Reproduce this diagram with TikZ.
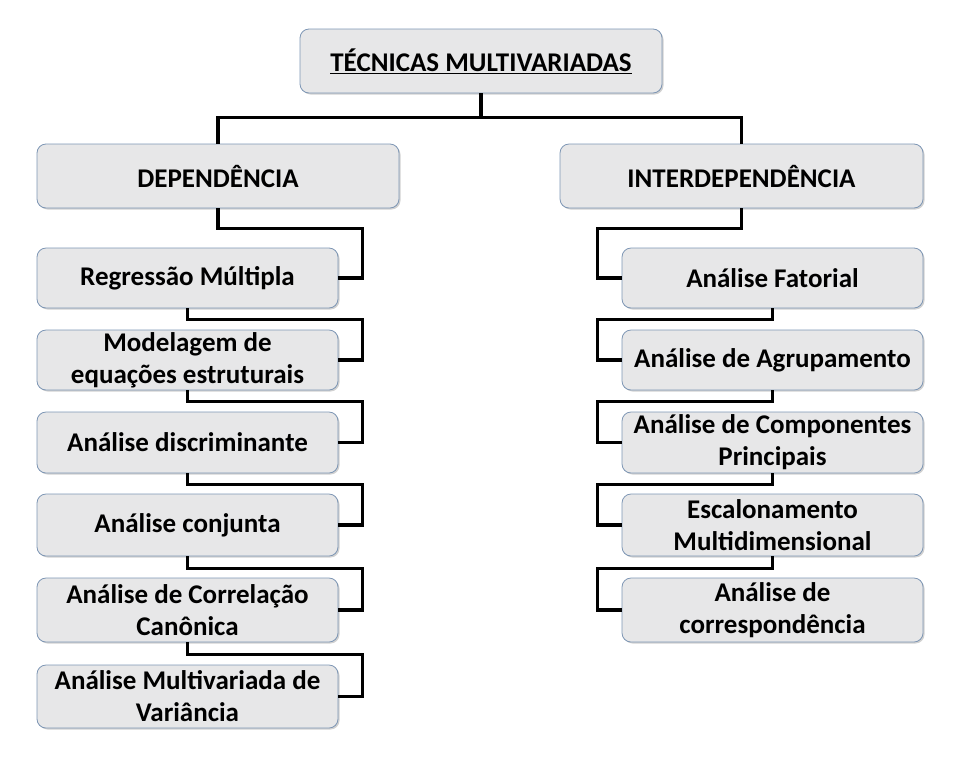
\documentclass[tikz,border=0pt]{standalone}
\usepackage{fontspec}
\setmainfont{Carlito}
\usetikzlibrary{shadows,calc}
\definecolor{boxfill}{RGB}{231,231,232}
\definecolor{boxline}{RGB}{125,150,180}
\begin{document}
\begin{tikzpicture}[x=1pt,y=-1pt,
  box/.style={draw=boxline, line width=0.8pt, fill=boxfill, rounded corners=9pt,
    align=center, inner sep=0pt, font=\fontsize{27}{32}\selectfont\bfseries,
    drop shadow={shadow xshift=1.5pt, shadow yshift=-1.5pt, fill=black!40, opacity=0.45}},
  big/.style={box, minimum width=362pt, minimum height=64pt},
  small/.style={box, minimum width=301pt},
  conn/.style={draw=black, line width=3.2pt}]
\useasboundingbox (0,0) rectangle (963,769);
\node[big] (top) at (481,61) {\underline{TÉCNICAS MULTIVARIADAS}};
\node[big] (dep) at (218,176) {DEPENDÊNCIA};
\node[big, minimum width=363pt] (int) at (741.5,176) {INTERDEPENDÊNCIA};
\node[small, minimum height=60pt] (l1) at (187.5,278) {Regressão Múltipla};
\node[small, minimum height=60pt] (l2) at (187.5,360) {Modelagem de\\equações estruturais};
\node[small, minimum height=61pt] (l3) at (187.5,442.5) {Análise discriminante};
\node[small, minimum height=62pt] (l4) at (187.5,525) {Análise conjunta};
\node[small, minimum height=64pt] (l5) at (187.5,610) {Análise de Correlação\\Canônica};
\node[small, minimum height=63pt] (l6) at (187.5,696.5) {Análise Multivariada de\\Variância};
\node[small, minimum height=60pt] (r1) at (772.5,278) {Análise Fatorial};
\node[small, minimum height=60pt] (r2) at (772.5,360) {Análise de Agrupamento};
\node[small, minimum height=61pt] (r3) at (772.5,442.5) {Análise de Componentes\\Principais};
\node[small, minimum height=62pt] (r4) at (772.5,525) {Escalonamento\\Multidimensional};
\node[small, minimum height=64pt] (r5) at (772.5,610) {Análise de\\correspondência};
% top connectors
\draw[conn] (top.south) -- ++(0,24) -| (dep.north);
\draw[conn] (top.south) -- ++(0,24) -| (int.north);
% left chain
\draw[conn] (dep.south) -- ++(0,20) -| ($(l1.east)+(24,0)$) -- (l1.east);
\draw[conn] (l1.south) -- ++(0,11) -| ($(l2.east)+(24,0)$) -- (l2.east);
\draw[conn] (l2.south) -- ++(0,11) -| ($(l3.east)+(24,0)$) -- (l3.east);
\draw[conn] (l3.south) -- ++(0,11) -| ($(l4.east)+(24,0)$) -- (l4.east);
\draw[conn] (l4.south) -- ++(0,12) -| ($(l5.east)+(24,0)$) -- (l5.east);
\draw[conn] (l5.south) -- ++(0,12) -| ($(l6.east)+(24,0)$) -- (l6.east);
% right chain
\draw[conn] (int.south) -- ++(0,20) -| ($(r1.west)+(-24,0)$) -- (r1.west);
\draw[conn] (r1.south) -- ++(0,11) -| ($(r2.west)+(-24,0)$) -- (r2.west);
\draw[conn] (r2.south) -- ++(0,11) -| ($(r3.west)+(-24,0)$) -- (r3.west);
\draw[conn] (r3.south) -- ++(0,11) -| ($(r4.west)+(-24,0)$) -- (r4.west);
\draw[conn] (r4.south) -- ++(0,12) -| ($(r5.west)+(-24,0)$) -- (r5.west);
\end{tikzpicture}
\end{document}
